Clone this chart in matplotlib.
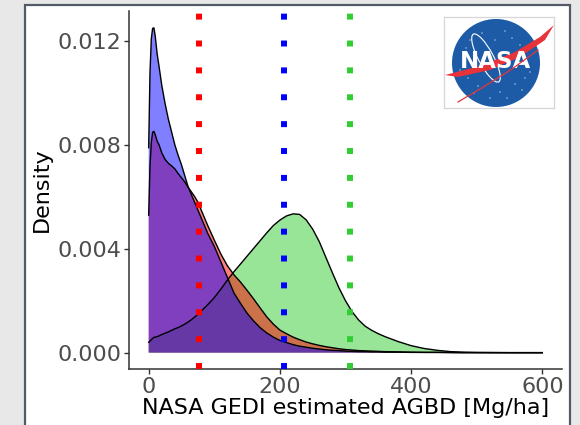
import numpy as np
import matplotlib
matplotlib.use('Agg')
import matplotlib.pyplot as plt
from matplotlib.patches import Rectangle, Circle, Ellipse, Polygon
import matplotlib.transforms as mtransforms

matplotlib.rcParams['font.family'] = 'DejaVu Sans'

# --- density curves (AGBD in Mg/ha) ---
agbd = [0, 2, 4, 6, 8, 10, 13, 16, 20, 25, 30, 35, 40, 45, 50, 55, 60, 65, 70, 75,
        80, 90, 100, 110, 120, 130, 140, 150, 160, 170, 180, 190, 200, 210, 220, 230,
        240, 250, 260, 270, 280, 290, 300, 310, 320, 330, 340, 350, 360, 380, 400,
        420, 440, 460, 480, 500, 550, 600]

dens_green = [0.00040, 0.00045, 0.00050, 0.00055, 0.00059, 0.00060, 0.00062, 0.00065,
              0.00070, 0.00075, 0.00080, 0.00086, 0.00092, 0.00097, 0.00103, 0.00110,
              0.00118, 0.00127, 0.00137, 0.00148, 0.00160, 0.00185, 0.00212, 0.00245,
              0.00280, 0.00312, 0.00342, 0.00372, 0.00402, 0.00432, 0.00462, 0.00490,
              0.00511, 0.00527, 0.00535, 0.00533, 0.00512, 0.00476, 0.00428, 0.00368,
              0.00308, 0.00250, 0.00200, 0.00158, 0.00126, 0.00102, 0.00086, 0.00073,
              0.00062, 0.00043, 0.00027, 0.00016, 0.00009, 0.00004, 0.00002, 0.00001,
              0.0, 0.0]

dens_red = [0.00530, 0.00720, 0.00810, 0.00850, 0.00853, 0.00840, 0.00815, 0.00800,
            0.00770, 0.00745, 0.00730, 0.00720, 0.00708, 0.00690, 0.00674, 0.00658,
            0.00638, 0.00620, 0.00602, 0.00580, 0.00550, 0.00490, 0.00434, 0.00380,
            0.00335, 0.00300, 0.00272, 0.00240, 0.00207, 0.00172, 0.00138, 0.00110,
            0.00087, 0.00073, 0.00060, 0.00050, 0.00041, 0.00034, 0.00028, 0.00023,
            0.00019, 0.00015, 0.00012, 0.00010, 0.00008, 0.00007, 0.00006, 0.00005,
            0.00004, 0.00003, 0.00002, 0.00001, 0.00001, 0.00001, 0.0, 0.0, 0.0, 0.0]

dens_blue = [0.00790, 0.01080, 0.01210, 0.01250, 0.01252, 0.01220, 0.01150, 0.01100,
             0.01030, 0.00960, 0.00900, 0.00850, 0.00800, 0.00760, 0.00724, 0.00682,
             0.00640, 0.00610, 0.00580, 0.00550, 0.00520, 0.00460, 0.00410, 0.00350,
             0.00290, 0.00230, 0.00190, 0.00152, 0.00122, 0.00096, 0.00076, 0.00060,
             0.00047, 0.00039, 0.00031, 0.00025, 0.00021, 0.00017, 0.00014, 0.00011,
             0.00009, 0.00008, 0.00006, 0.00005, 0.00004, 0.00004, 0.00003, 0.00003,
             0.00002, 0.00002, 0.00001, 0.00001, 0.00001, 0.0, 0.0, 0.0, 0.0, 0.0]

# reference values (dotted lines)
ref_x = [76, 207, 307]
ref_colors = ['red', 'blue', 'limegreen']

fill_colors = ['limegreen', 'red', 'blue']
series = [dens_green, dens_red, dens_blue]

W, H = 580, 425
fig = plt.figure(figsize=(W / 100, H / 100), dpi=100)
fig.patch.set_facecolor('#E8E8E8')

# white card with dark frame, cut off at the bottom
fig.add_artist(Rectangle((25 / W, -0.1), (570 - 25) / W, (H - 5) / H + 0.1,
                         transform=fig.transFigure, facecolor='white',
                         edgecolor='#515a66', lw=1.6, zorder=0))

ax = fig.add_axes([129 / W, (H - 369) / H, (562 - 129) / W, (369 - 11) / H])
ax.set_facecolor('none')

for dens, col in zip(series, fill_colors):
    ax.fill_between(agbd, 0, dens, facecolor=col, alpha=0.5, lw=0)
    ax.plot(agbd, dens, color='black', lw=1.0)

trans = mtransforms.blended_transform_factory(ax.transData, ax.transAxes)
for xv, col in zip(ref_x, ref_colors):
    ax.plot([xv, xv], [0, 1], transform=trans, color=col, lw=4.3,
            dashes=[1, 3.5], dash_capstyle='butt', zorder=5)

ax.set_xlim(-30, 630)
ax.set_ylim(-0.00063, 0.01317)
ax.set_xticks([0, 200, 400, 600])
ax.set_yticks([0.0, 0.004, 0.008, 0.012])
ax.set_yticklabels(['0.000', '0.004', '0.008', '0.012'])
for s in ['top', 'right']:
    ax.spines[s].set_visible(False)
for s in ['left', 'bottom']:
    ax.spines[s].set_color('#333333')
    ax.spines[s].set_linewidth(1.1)
ax.tick_params(colors='#333333', labelcolor='#4D4D4D', labelsize=16,
               length=3.5, width=1.0, pad=2)
ax.set_xlabel('NASA GEDI estimated AGBD [Mg/ha]', fontsize=16, color='black', labelpad=1)
ax.set_ylabel('Density', fontsize=16, color='black', labelpad=4)

# NASA logo drawn in pixel coords
lg = fig.add_axes([444 / W, (H - 107.5) / H, 110 / W, 90.5 / H])
lg.set_xlim(444, 554)
lg.set_ylim(107.5, 17)
lg.set_xticks([]); lg.set_yticks([])
for s in lg.spines.values():
    s.set_color('#d6d6d6'); s.set_linewidth(0.9)
lg.add_patch(Circle((496, 63), 44, facecolor='#1d5ba6', edgecolor='none'))
lg.add_patch(Ellipse((486, 58), 54, 15, angle=62, facecolor='none',
                     edgecolor='white', lw=0.8))
stars = [(470, 40), (482, 33), (505, 31), (512, 38), (466, 48), (520, 45),
         (468, 78), (478, 86), (500, 92), (515, 84), (525, 78), (530, 72),
         (490, 98), (507, 98), (460, 70), (522, 90), (495, 40), (474, 93)]
for sx, sy in stars:
    lg.add_patch(Circle((sx, sy), 0.6, facecolor='white', edgecolor='none'))
swoosh = [(445, 75), (480, 66), (515, 52), (540, 37), (554, 25),
          (545, 40), (520, 57), (490, 70), (458, 77)]
lg.add_patch(Polygon(swoosh, closed=True, facecolor='#e8333b', edgecolor='none', zorder=1))
lg.text(495, 62, 'NASA', fontsize=16.5, weight='bold', color='white',
        ha='center', va='center', zorder=2)
lg.plot([458, 485, 512, 538], [102, 86, 69, 50], color='#e8333b', lw=0.9, zorder=3)

fig.savefig('out.png', dpi=100, facecolor=fig.get_facecolor())
